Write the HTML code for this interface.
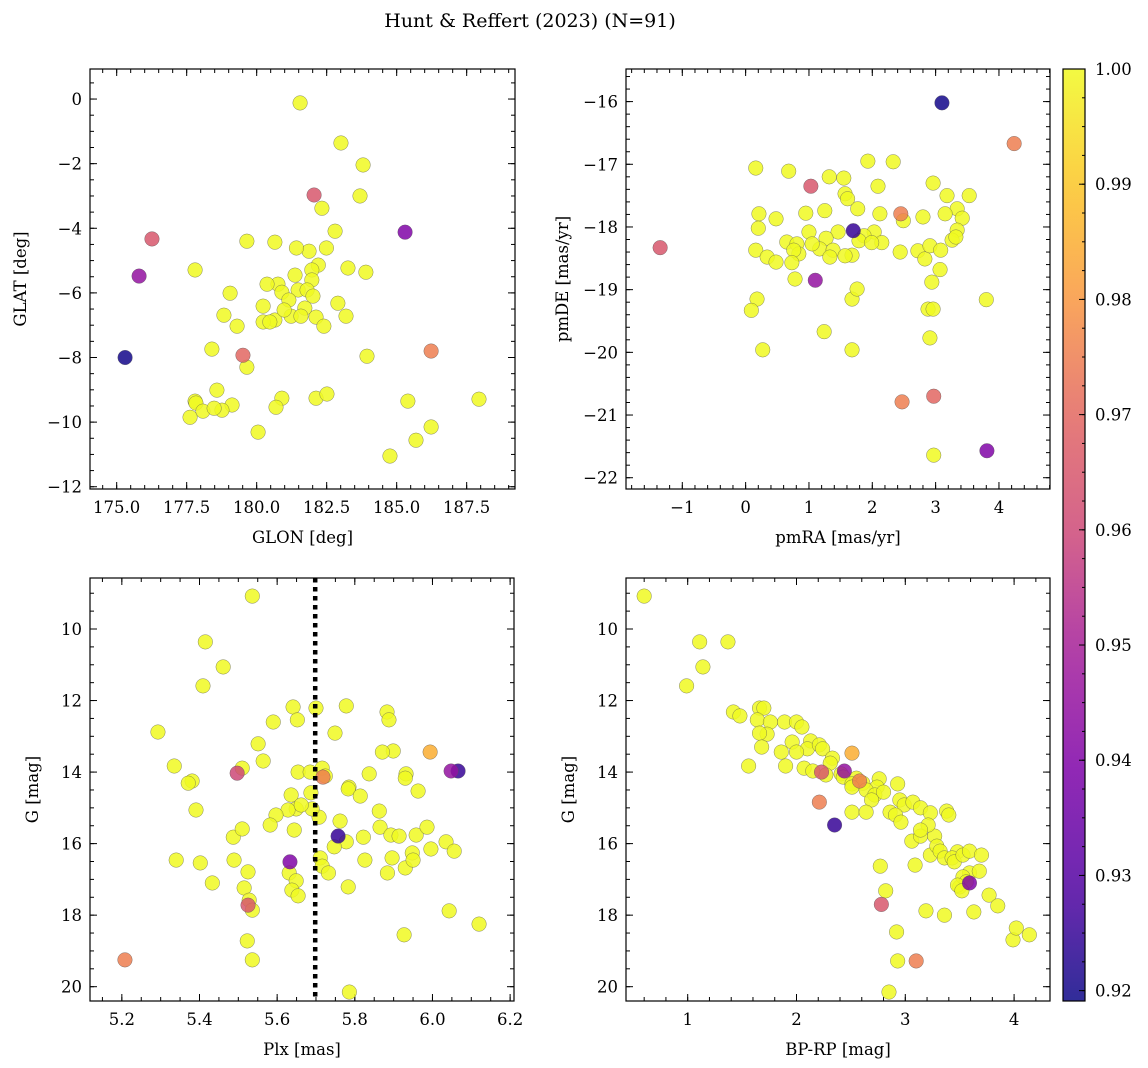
<!DOCTYPE html>
<html><head><meta charset="utf-8">
<style>
html,body{margin:0;padding:0;background:#fff;}
svg{display:block;font-family:"DejaVu Serif","Liberation Serif",serif;}
</style></head>
<body>
<svg id="fig" width="1148" height="1068" viewBox="0 0 1148 1068" xmlns="http://www.w3.org/2000/svg">
<text x="530" y="27" font-size="19" text-anchor="middle">Hunt &amp; Reffert (2023) (N=91)</text>
</svg>
<script>
// ---- data (per panel) ----
const glon = [181.55,183.01,183.80,183.69,182.05,182.33,176.26,185.30,182.80,180.65,181.87,179.65,181.42,182.49,182.20,181.97,183.26,181.97,181.37,180.76,183.90,180.37,181.48,181.80,175.80,177.80,182.01,180.90,180.23,181.15,181.72,181.23,180.65,182.12,179.05,182.90,183.19,180.23,180.98,181.58,182.40,180.47,178.83,179.30,179.51,178.40,183.94,186.23,175.30,179.65,177.80,177.83,178.58,179.12,180.90,180.69,178.08,178.76,178.48,177.62,182.12,182.51,180.05,185.40,185.69,186.23,184.76,187.94];
const glat = [-0.12,-1.36,-2.04,-3.00,-2.97,-3.38,-4.33,-4.12,-4.09,-4.43,-4.71,-4.40,-4.61,-4.61,-5.14,-5.29,-5.23,-5.60,-5.45,-5.73,-5.36,-5.73,-5.91,-5.91,-5.48,-5.29,-6.10,-5.98,-6.41,-6.22,-6.47,-6.72,-6.84,-6.75,-6.01,-6.32,-6.72,-6.90,-6.53,-6.72,-7.03,-6.90,-6.69,-7.03,-7.93,-7.74,-7.96,-7.80,-8.00,-8.30,-9.35,-9.41,-9.01,-9.47,-9.26,-9.54,-9.66,-9.63,-9.57,-9.85,-9.26,-9.13,-10.31,-9.35,-10.56,-10.15,-11.05,-9.29];
const prob1 = {4:0.965,6:0.965,7:0.94,24:0.945,44:0.97,47:0.975,48:0.92};

const pmra = [3.10,4.24,-1.35,0.16,0.68,1.03,1.32,1.55,1.93,2.33,2.09,1.57,2.96,3.18,3.53,3.34,3.15,3.42,3.34,2.80,2.03,2.49,2.12,1.77,1.61,1.25,0.95,1.00,1.46,1.27,1.17,1.38,1.70,1.87,1.79,2.15,1.68,1.99,1.57,1.33,0.21,0.48,0.20,0.16,0.34,0.65,0.81,0.84,1.05,0.76,0.48,0.73,2.44,2.72,2.83,2.91,3.07,3.26,3.32,3.08,2.94,2.88,2.96,2.45,1.10,0.78,0.18,0.09,1.68,1.76,1.24,1.68,0.27,2.91,3.80,2.47,2.97,3.81,2.97];
const pmde = [-16.02,-16.67,-18.33,-17.06,-17.11,-17.35,-17.20,-17.22,-16.95,-16.96,-17.35,-17.47,-17.30,-17.50,-17.50,-17.71,-17.79,-17.86,-18.05,-17.84,-18.08,-17.90,-17.79,-17.71,-17.55,-17.74,-17.78,-18.08,-18.08,-18.18,-18.35,-18.37,-18.06,-18.14,-18.22,-18.25,-18.45,-18.25,-18.46,-18.48,-17.79,-17.87,-18.02,-18.37,-18.48,-18.24,-18.27,-18.43,-18.27,-18.37,-18.56,-18.57,-18.40,-18.38,-18.51,-18.30,-18.68,-18.21,-18.16,-18.37,-18.88,-19.31,-19.31,-17.79,-18.85,-18.83,-19.15,-19.33,-19.15,-18.99,-19.67,-19.96,-19.96,-19.77,-19.16,-20.79,-20.70,-21.57,-21.64];
const prob2 = {0:0.92,1:0.975,2:0.965,5:0.965,32:0.925,63:0.975,64:0.945,75:0.975,76:0.97,77:0.94};

const plx = [5.536,5.415,5.461,5.409,5.590,5.700,5.641,5.778,5.551,5.652,5.749,5.883,5.888,5.293,5.899,5.871,5.335,5.381,5.371,5.510,5.497,5.564,5.654,5.685,5.716,5.724,6.066,6.048,5.994,5.718,5.785,5.837,5.932,5.963,5.930,5.863,5.783,5.814,5.762,5.708,5.687,5.690,5.649,5.628,5.636,5.597,5.662,5.644,5.582,5.487,5.510,5.391,5.340,5.489,5.402,5.433,5.525,5.515,5.528,5.536,5.631,5.649,5.638,5.654,5.711,5.716,5.732,5.778,5.747,5.822,5.865,5.826,5.893,5.896,5.914,5.948,5.930,5.884,5.996,5.958,5.986,6.035,6.056,5.950,6.043,6.120,5.927,5.783,5.633,5.525,5.523,5.536,5.757,5.208,5.786];
const gmag3 = [9.08,10.36,11.06,11.59,12.60,12.21,12.18,12.15,13.21,12.54,12.91,12.32,12.54,12.88,13.41,13.44,13.83,14.25,14.31,13.89,14.03,13.69,14.00,14.00,13.89,14.11,13.97,13.97,13.44,14.14,14.42,14.05,14.05,14.53,14.17,15.09,14.47,14.67,15.37,15.26,14.58,15.03,15.03,15.06,14.64,15.20,14.92,15.62,15.48,15.82,15.59,15.06,16.46,16.46,16.54,17.10,16.79,17.24,17.58,17.86,16.82,17.04,17.30,17.46,16.40,16.63,16.82,15.95,16.09,15.82,15.54,16.46,15.76,16.40,15.79,16.26,16.68,16.82,16.15,15.76,15.54,15.95,16.21,16.46,17.88,18.25,18.55,17.21,16.51,17.72,18.72,19.25,15.79,19.25,20.15];
const prob3 = {20:0.96,26:0.925,27:0.945,28:0.985,29:0.975,88:0.94,89:0.965,92:0.925,93:0.975};
const plxLine = [5.698];

const bprp = [0.60,1.11,0.99,1.37,1.14,1.66,1.42,1.70,1.64,1.48,1.76,1.89,1.73,2.00,2.05,2.13,1.96,2.10,2.21,1.66,1.68,1.86,2.00,2.24,2.33,2.31,2.27,1.90,2.07,2.15,2.41,2.43,2.55,2.51,2.61,2.76,2.74,2.51,2.64,2.72,2.80,2.69,2.95,2.93,2.99,2.51,2.64,2.86,2.91,2.96,3.07,3.14,3.27,3.23,3.38,3.21,3.06,3.14,3.23,3.40,3.14,3.29,3.32,3.36,3.48,3.43,3.09,3.45,3.53,3.50,3.59,3.70,3.59,3.53,3.68,3.56,3.48,3.52,3.77,3.63,3.85,3.99,4.14,4.02,3.36,3.19,2.77,2.82,2.92,2.93,2.85,1.56,2.51,2.23,2.44,2.21,2.58,2.35,3.59,2.78,3.10];
const gmag4 = [9.08,10.36,11.59,10.36,11.06,12.21,12.32,12.21,12.54,12.43,12.60,12.60,12.94,12.60,12.74,13.13,13.16,13.35,13.24,12.91,13.30,13.44,13.44,13.35,13.61,13.75,14.08,13.83,13.89,13.97,14.05,14.14,14.17,14.33,14.31,14.19,14.42,14.42,14.50,14.64,14.56,14.78,14.78,14.33,14.92,15.12,15.12,15.12,15.20,15.40,14.84,15.00,15.79,15.14,15.09,15.48,15.93,15.79,16.32,15.20,15.62,16.07,16.21,16.40,16.23,16.40,16.60,16.51,16.32,17.21,16.21,16.32,16.82,16.93,16.77,17.07,17.16,17.32,17.44,17.91,17.74,18.69,18.55,18.36,18.00,17.88,16.63,17.32,18.47,19.28,20.15,13.83,13.47,14.00,13.97,14.84,14.25,15.48,17.10,17.70,19.28];
const prob4 = {92:0.985,93:0.965,94:0.945,95:0.975,96:0.975,97:0.925,98:0.94,99:0.965,100:0.975};

const cbTicks = [0.92,0.93,0.94,0.95,0.96,0.97,0.98,0.99,1.00];
const CMIN = 0.9191, CMAX = 1.0;

// ---- helpers ----
const NS = "http://www.w3.org/2000/svg";
const svg = document.getElementById('fig');
function mk(tag, attrs, parent){
  const e = document.createElementNS(NS, tag);
  for (const k in attrs) e.setAttribute(k, attrs[k]);
  (parent||svg).appendChild(e);
  return e;
}
const plasma = [[13,8,135],[84,2,163],[126,3,168],[163,29,154],[204,71,120],[225,100,98],[248,149,64],[252,196,35],[240,249,33]];
function cmap(v){
  let t = (v-CMIN)/(CMAX-CMIN); t = Math.max(0,Math.min(1,t));
  const p = t*(plasma.length-1), i = Math.min(plasma.length-2, Math.floor(p)), f = p-i;
  const c = plasma[i].map((a,k)=>Math.round(a+(plasma[i+1][k]-a)*f));
  return 'rgb('+c.join(',')+')';
}
function scale(d0,d1,r0,r1){ return v => r0 + (v-d0)/(d1-d0)*(r1-r0); }
function fmt(v,dec){ const s = v.toFixed(dec); return s.replace('-', '\u2212'); }
function vals(d, step){
  const lo = Math.min(d[0],d[1]), hi = Math.max(d[0],d[1]), out = [];
  for (let k = Math.ceil(lo/step-1e-9); k*step <= hi+1e-9; k++) out.push(k*step);
  return out;
}

function panel(o){
  const g = mk('g', {});
  
  
  const sx = scale(o.xd[0],o.xd[1],o.L,o.R), sy = scale(o.yd[0],o.yd[1],o.B,o.T);
  const tg = mk('g', {stroke:'#000','stroke-width':1}, g);
  function ticksX(step, len){
    for (const v of vals(o.xd, step)){
      const x = sx(v);
      mk('line',{x1:x,x2:x,y1:o.B,y2:o.B-len},tg); mk('line',{x1:x,x2:x,y1:o.T,y2:o.T+len},tg);
    }
  }
  function ticksY(step, len){
    for (const v of vals(o.yd, step)){
      const y = sy(v);
      mk('line',{x1:o.L,x2:o.L+len,y1:y,y2:y},tg); mk('line',{x1:o.R,x2:o.R-len,y1:y,y2:y},tg);
    }
  }
  ticksX(o.xminor,4); ticksY(o.yminor,4);
  ticksX(o.xmajor,7); ticksY(o.ymajor,7);
  for (const v of vals(o.xd, o.xmajor)){
    const t = mk('text',{x:sx(v),y:o.B+24,'font-size':16.5,'text-anchor':'middle'},g);
    
    
    t.textContent = fmt(v,o.xdec);
  }
  for (const v of vals(o.yd, o.ymajor)){
    const t = mk('text',{x:o.L-8,y:sy(v)+6,'font-size':16.5,'text-anchor':'end'},g);
    
    
    t.textContent = fmt(v,o.ydec);
  }
  const xt = mk('text',{x:(o.L+o.R)/2,y:o.B+54,'font-size':16.5,'text-anchor':'middle'},g);
  
  
  xt.textContent = o.xlabel;
  const yx = o.L - o.ylabOff, yy = (o.T+o.B)/2;
  const yt = mk('text',{x:yx,y:yy,'font-size':16.5,'text-anchor':'middle',transform:'rotate(-90 '+yx+' '+yy+')'},g);
  
  
  yt.textContent = o.ylabel;
  const order = o.xs.map((_,i)=>i).sort((a,b)=>((o.prob[a]||1)<1?1:0)-((o.prob[b]||1)<1?1:0));
  for (const i of order){
    const c = mk('circle',{cx:sx(o.xs[i]),cy:sy(o.ys[i]),r:7.3,fill:cmap(o.prob[i]||1.0),'fill-opacity':0.85,stroke:'#555','stroke-width':0.5,'stroke-opacity':0.7},g);
    
    
  }
  if (o.vline){
    for (const v of o.vline){
      const l = mk('line',{x1:sx(v),x2:sx(v),y1:o.T,y2:o.B,stroke:'#000','stroke-width':4.5,'stroke-dasharray':'4.5 4.5'},g);
      
      
    }
  }
  const fr = mk('rect',{x:o.L,y:o.T,width:o.R-o.L,height:o.B-o.T,fill:'none',stroke:'#000','stroke-width':1.2},g);
  
  
}

panel({name:'panel-glon-glat',L:90,R:515,T:69,B:489,xd:[174.047,189.226],yd:[-12.07,0.93],
  xmajor:2.5,xminor:0.5,ymajor:2,yminor:0.5,xdec:1,ydec:0,xlabel:'GLON [deg]',ylabel:'GLAT [deg]',ylabOff:64,
  xs:glon,ys:glat,prob:prob1});
panel({name:'panel-pm',L:626,R:1050,T:69,B:489,xd:[-1.889,4.806],yd:[-22.18,-15.48],
  xmajor:1,xminor:0.2,ymajor:1,yminor:0.2,xdec:0,ydec:0,xlabel:'pmRA [mas/yr]',ylabel:'pmDE [mas/yr]',ylabOff:58,
  xs:pmra,ys:pmde,prob:prob2});
panel({name:'panel-plx-g',L:90,R:514,T:578,B:1001,xd:[5.118,6.210],yd:[20.40,8.574],
  xmajor:0.2,xminor:0.05,ymajor:2,yminor:0.5,xdec:1,ydec:0,xlabel:'Plx [mas]',ylabel:'G [mag]',ylabOff:52,
  xs:plx,ys:gmag3,prob:prob3,vline:plxLine});
panel({name:'panel-cmd',L:626,R:1050,T:578,B:1001,xd:[0.433,4.330],yd:[20.40,8.574],
  xmajor:1,xminor:0.2,ymajor:2,yminor:0.5,xdec:0,ydec:0,xlabel:'BP-RP [mag]',ylabel:'G [mag]',ylabOff:52,
  xs:bprp,ys:gmag4,prob:prob4});

// colorbar
(function(){
  const L=1063,R=1085,T=69,B=1001;
  const cg = mk('g',{});
  
  
  const defs = mk('defs',{},cg);
  const lg = mk('linearGradient',{id:'cbg',x1:0,y1:1,x2:0,y2:0},defs);
  for (let k=0;k<=20;k++){ mk('stop',{offset:k/20,'stop-color':cmap(CMIN+(CMAX-CMIN)*k/20)},lg); }
  mk('rect',{x:L,y:T,width:R-L,height:B-T,fill:'url(#cbg)','fill-opacity':0.85},cg);
  const sy = scale(CMIN,CMAX,B,T);
  for (let v=0.92; v<=1.00001; v+=0.0025){ mk('line',{x1:R,x2:R-3,y1:sy(v),y2:sy(v),stroke:'#000','stroke-width':1},cg); }
  for (const v of cbTicks){
    mk('line',{x1:R,x2:R-6,y1:sy(v),y2:sy(v),stroke:'#000','stroke-width':1},cg);
    const t = mk('text',{x:R+10,y:sy(v)+6,'font-size':16.5},cg);
    
    
    t.textContent = v.toFixed(2);
  }
  mk('rect',{x:L,y:T,width:R-L,height:B-T,fill:'none',stroke:'#000','stroke-width':1.2},cg);
})();
</script>
</body></html>
